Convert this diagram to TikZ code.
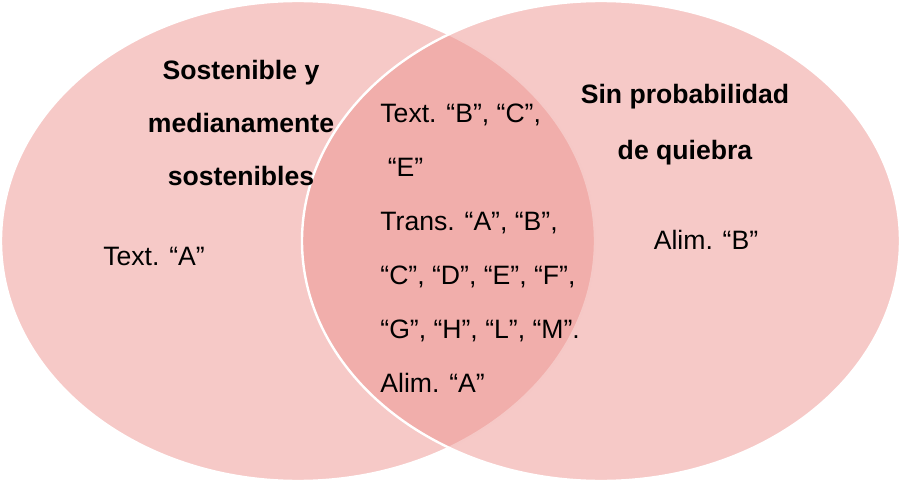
\documentclass[tikz,border=0pt]{standalone}
\usepackage{fontspec}
\setmainfont{Liberation Sans}
\definecolor{vennpink}{RGB}{237,147,143}

\begin{document}
\begin{tikzpicture}[
    x=0.5pt, y=-0.5pt,
    set/.style={fill=vennpink, fill opacity=0.5, draw=white, line width=1.2pt},
    title/.style={font=\fontsize{13.3}{26.5}\selectfont\bfseries, align=center, inner sep=0pt},
    item/.style={font=\fontsize{13.3}{27}\selectfont, inner sep=0pt},
  ]
  \useasboundingbox (0,0) rectangle (901,482);
  % the two sets
  \path[set] (298,241) ellipse [x radius=297, y radius=240];
  \path[set] (601,241) ellipse [x radius=299, y radius=240];

  \node[title] (lefttitle) at (241,123)
    {Sostenible y\\medianamente\\sostenibles};
  \node[title, font=\fontsize{13.3}{28}\selectfont\bfseries] (righttitle) at (685,125)
    {Sin probabilidad\\de quiebra};

  \node[item] (leftitem) at (154,256) {Text. “A”};
  \node[item] (rightitem) at (706,240) {Alim. “B”};
  \node[item, align=left, anchor=west] (bothitems) at (380,248)
    {Text. “B”, “C”,\\
     \ “E”\\
     Trans. “A”, “B”,\\
     “C”, “D”, “E”, “F”,\\
     “G”, “H”, “L”, “M”.\\
     Alim. “A”};
\end{tikzpicture}
\end{document}
